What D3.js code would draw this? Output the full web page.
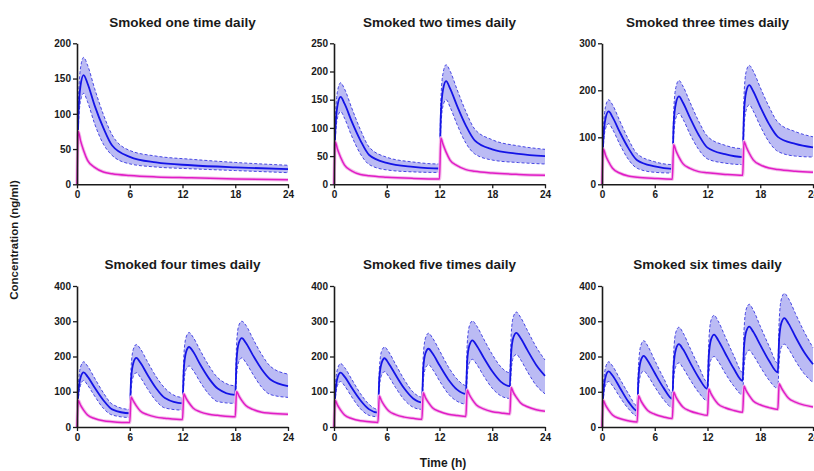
<!DOCTYPE html>
<html>
<head>
<meta charset="utf-8">
<script src="https://cdn.jsdelivr.net/npm/d3@7"></script>
<style>
  body { margin: 0; background: #fff; }
  text { font-family: "Liberation Sans", Arial, sans-serif; }
</style>
</head>
<body>
<div class="container"></div>
<script>
// panel titles and axis setup
const titles = ["Smoked one time daily", "Smoked two times daily", "Smoked three times daily",
  "Smoked four times daily", "Smoked five times daily", "Smoked six times daily"];
const yMax = [200, 250, 300, 400, 400, 400];
const yTickStep = [50, 50, 100, 100, 100, 100];
const xTicks = [0, 6, 12, 18, 24];

// one time daily
const t1 = [0,.15,.4,.75,1.2,2,3,4,6,9,13,18,24];
const mean1 = [0,95,140,155,143,112,80,55,39,31,27,24,21.5];
const hi1 = [0,112,165,180,169,136,99,70,48,40,35.5,31,27];
const lo1 = [0,78,118,129,117,86,57,41,29,24.5,22,19.5,16.5];
const pink1 = [0,75,62,48,34,24,17.5,15,12.5,10.5,9.2,7.6,6.5];

// two times daily
const t2 = [0,.15,.4,.75,1.2,2,3,4,6,9, 12,12.15,12.4,12.75,13.2,14,15,16,18,21, 24];
const mean2 = [0,95,140,155,143,112,78,52,38,31, 28,123,168,183,170,139,104,78,62,54, 50];
const hi2 = [0,112,165,180,169,136,97,66,48,39.5, 36,147,197,212,201,168,129,98,79,68, 62];
const lo2 = [0,78,118,129,117,86,54,35,25.5,22, 21,99,139,150,137,106,73,54,43,38.5, 36];
const pink2 = [0,75,62,48,34,24,17.5,15,12.5,10.5, 9.5,82,71,57,43,33,26,23,20,17.5, 16];

// three times daily
const t3 = [0,.15,.4,.75,1.2,2,3,4,6, 8,8.15,8.4,8.75,9.2,10,11,12,14, 16,16.15,16.4,16.75,17.2,18,19,20,22, 24];
const mean3 = [0,95,140,155,143,112,77,51,38, 33,128,172,187,174,142,105,78,64, 58,152,197,211,198,165,128,101,86, 78.5];
const hi3 = [0,112,165,180,169,136,96,65,48, 42,154,206,221,209,175,134,102,83, 76,188,240,253,241,206,165,132,112, 101];
const lo3 = [0,78,118,129,117,86,53,34,25.5, 24,101,141,151,139,107,74,54,45, 42,119,158,169,156,124,90,70,60, 58];
const pink3 = [0,75,62,48,34,24,17.5,15,12.5, 11,84,72,58,44,34,27,24.5,21, 19,91,80,66,52,41.5,34.5,31.5,28, 25.5];

// four times daily
const t4 = [0,.15,.4,.75,1.2,2,3,4, 6,6.15,6.4,6.75,7.2,8,9,10, 12,12.15,12.4,12.75,13.2,14,15,16, 18,18.15,18.4,18.75,19.2,20,21,22, 24];
const mean4 = [0,95,140,155,143,112,76,50, 39,135,181,196,183,149,110,82, 67,164,212,227,214,178,138,109, 91,190,238,252,239,204,164,135, 116];
const hi4 = [0,115,170,185,173,139,97,65, 50,168,220,234,222,186,143,110, 84,202,254,268,255,218,174,140, 117,236,288,300,289,251,206,172, 150];
const lo4 = [0,78,118,132,119,88,53,34, 27,103,143,154,141,109,74,54, 48,123,163,173,161,128,93,72, 67,145,185,196,183,150,113,92, 84];
const pink4 = [0,75,62,48,34,24,17.5,15, 12.5,85,74,60,45.5,35,28,25, 21,94,82,68,54,43,36,33, 29,101,89,75,61,50,42,39, 36];

// five times daily
const t5 = [0,.15,.4,.75,1.2,2,3,4, 5,5.15,5.4,5.75,6.2,7,8,9, 10,10.15,10.4,10.75,11.2,12,13,14,
  15,15.15,15.4,15.75,16.2,17,18,19, 20,20.15,20.4,20.75,21.2,22,23,24];
const mean5 = [0,95,140,154,143,112,76,50, 41,136,180,195,181,148,109,81, 70,165,209,222,209,175,135,106,
  94,188,232,246,232,198,158,128, 116,210,254,267,253,218,176,145];
const hi5 = [0,112,165,180,169,136,95,64, 50,161,214,227,214,178,134,99, 85,200,252,266,253,217,171,136,
  118,235,287,301,288,251,206,170, 154,261,313,326,312,274,227,190];
const lo5 = [0,78,118,129,117,86,52,33, 29,107,146,157,144,112,77,56, 50,128,167,177,164,131,94,73,
  65,143,182,192,179,146,110,88, 81,158,197,206,192,157,118,94];
const pink5 = [0,75,62,48,34,24,17.5,15, 13,88,74.5,60,46,35,28,24.5, 22,97,83.5,69,54.5,44,36,32.5,
  30,105,91.5,77,62.5,51.5,43.5,40, 37,112,98,84,69,57.5,49,45];

// six times daily
const t6 = [0,.15,.4,.75,1.2,2,3, 4,4.15,4.4,4.75,5.2,6,7, 8,8.15,8.4,8.75,9.2,10,11, 12,12.15,12.4,12.75,13.2,14,15,
  16,16.15,16.4,16.75,17.2,18,19, 20,20.15,20.4,20.75,21.2,22,23, 24];
const mean6 = [0,95,142,158,146,113,72, 46,140,187,202,188,153,111, 80,174,220,235,221,184,140, 108,202,248,262,247,210,165,
  131,225,271,285,270,233,188, 155,249,295,309,294,256,212, 178];
const hi6 = [0,112,168,185,173,138,95, 60,173,230,245,230,189,139, 97,211,269,283,268,225,172, 127,243,303,317,301,257,202,
  155,273,334,348,332,286,230, 181,300,363,379,365,322,270, 225];
const lo6 = [0,78,118,129,117,86,52, 31,109,148,159,146,114,78, 55,133,172,182,168,135,98, 74,152,191,200,187,153,116,
  91,169,208,218,204,171,133, 109,187,226,235,222,188,151, 126];
const pink6 = [0,75,62,48,34,24,17.5, 14,89,75.5,61,47,36,28.5, 24,99,85.5,71,56.5,45.5,38, 33,108,94.5,80,65.5,54.5,47,
  42,116,103,89,74,63,55, 50,123,111,97,82,70.5,62, 57];

const panels = [
  { t: t1, mean: mean1, hi: hi1, lo: lo1, pink: pink1 },
  { t: t2, mean: mean2, hi: hi2, lo: lo2, pink: pink2 },
  { t: t3, mean: mean3, hi: hi3, lo: lo3, pink: pink3 },
  { t: t4, mean: mean4, hi: hi4, lo: lo4, pink: pink4 },
  { t: t5, mean: mean5, hi: hi5, lo: lo5, pink: pink5 },
  { t: t6, mean: mean6, hi: hi6, lo: lo6, pink: pink6 }
];

// layout
const colX = [[77, 288], [334, 545], [602, 813]];
const rowY = [[184.3, 43.3], [427, 286]];
const titleY = [26.5, 269];

let svg = d3.select(".container")
  .append("svg")
  .attr("width", 814)
  .attr("height", 471);

panels.forEach((p, i) => {
  const col = i % 3, row = Math.floor(i / 3);
  const x = d3.scaleLinear().domain([0, 24]).range(colX[col]);
  const y = d3.scaleLinear().domain([0, yMax[i]]).range(rowY[row]);
  const pts = p.t.map((tt, k) => ({ t: tt, m: p.mean[k], h: p.hi[k], l: p.lo[k], q: p.pink[k] }));
  const curve = d3.curveMonotoneX;

  let g = svg.append("g").attr("class", "panel" + i);

  g.append("path")
    .attr("d", d3.area().curve(curve).x(d => x(d.t)).y0(d => y(d.l)).y1(d => y(d.h))(pts))
    .attr("fill", "#bbbbf4");

  ["h", "l"].forEach(key => {
    g.append("path")
      .attr("d", d3.line().curve(curve).x(d => x(d.t)).y(d => y(d[key]))(pts))
      .attr("fill", "none")
      .attr("stroke", "#3535e0")
      .attr("stroke-width", 0.9)
      .attr("stroke-dasharray", "3,2");
  });

  g.append("path")
    .attr("d", d3.line().curve(curve).x(d => x(d.t)).y(d => y(d.m))(pts))
    .attr("fill", "none")
    .attr("stroke", "#1414e6")
    .attr("stroke-width", 1.8);

  // pink series with its narrow band
  g.append("path")
    .attr("d", d3.line().curve(curve).x(d => x(d.t)).y(d => y(d.q))(pts))
    .attr("fill", "none")
    .attr("stroke", "#f4bdeb")
    .attr("stroke-width", 3.4);
  g.append("path")
    .attr("d", d3.line().curve(curve).x(d => x(d.t)).y(d => y(d.q))(pts))
    .attr("fill", "none")
    .attr("stroke", "#e01cc6")
    .attr("stroke-width", 1.5);

  // axes
  let ya = g.append("g")
    .attr("transform", `translate(${colX[col][0]},0)`)
    .call(d3.axisLeft(y).tickValues(d3.range(0, yMax[i] + 1, yTickStep[i])).tickSize(4).tickSizeOuter(0).tickPadding(2));
  let xa = g.append("g")
    .attr("transform", `translate(0,${rowY[row][0]})`)
    .call(d3.axisBottom(x).tickValues(xTicks).tickSize(4).tickSizeOuter(0).tickPadding(3));
  [ya, xa].forEach(a => {
    a.select(".domain").attr("stroke", "#1a1a1a").attr("stroke-width", 1.6);
    a.selectAll(".tick line").attr("stroke", "#1a1a1a").attr("stroke-width", 1.3);
    a.selectAll(".tick text")
      .attr("fill", "#1a1a1a")
      .attr("font-size", 10)
      .attr("font-weight", "bold")
      .attr("font-family", "'Liberation Sans', Arial, sans-serif");
  });

  svg.append("text")
    .attr("x", (colX[col][0] + colX[col][1]) / 2)
    .attr("y", titleY[row])
    .attr("text-anchor", "middle")
    .attr("font-size", 13.5)
    .attr("font-weight", "bold")
    .attr("fill", "#1a1a1a")
    .text(titles[i]);
});

svg.append("text")
  .attr("transform", "translate(18,240) rotate(-90)")
  .attr("text-anchor", "middle")
  .attr("font-family", "Lato, 'Open Sans', sans-serif")
  .attr("font-size", 11.5)
  .attr("font-weight", "bold")
  .attr("fill", "#1a1a1a")
  .text("Concentration (ng/ml)");

svg.append("text")
  .attr("x", 443)
  .attr("y", 467)
  .attr("text-anchor", "middle")
  .attr("font-family", "Lato, 'Open Sans', sans-serif")
  .attr("font-size", 12)
  .attr("font-weight", "bold")
  .attr("fill", "#1a1a1a")
  .text("Time (h)");
</script>
</body>
</html>
